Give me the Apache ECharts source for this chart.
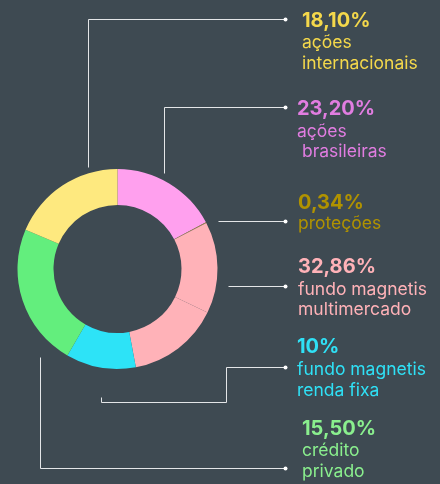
<!DOCTYPE html>
<html>
<head>
<meta charset="utf-8">
<script src="https://cdn.jsdelivr.net/npm/echarts@6/dist/echarts.min.js"></script>
<style>
html,body{margin:0;padding:0;background:#3e4a52;}
#c{width:440px;height:484px;}
</style>
</head>
<body>
<div id="c"></div>
<script>
// Slices as drawn in the ring, clockwise from 12 o'clock (share of the ring)
const sliceNames = ['ações brasileiras', 'proteções', 'fundo magnetis multimercado', 'fundo magnetis multimercado', 'fundo magnetis renda fixa', 'crédito privado', 'ações internacionais'];
const sliceValues = [17.3, 0.12, 14.8, 14.9, 11.3, 23.1, 18.6];

// Label texts (top to bottom on the right)
const pctLabels = ['18,10%', '23,20%', '0,34%', '32,86%', '10%', '15,50%'];
const nameLabels = [
  ['ações', 'internacionais'],
  ['ações', ' brasileiras'],
  ['proteções'],
  ['fundo magnetis', 'multimercado'],
  ['fundo magnetis', 'renda fixa'],
  ['crédito', 'privado']
];

// styles
const sliceColors = ['#ffa0ee', '#a08a40', '#ffb2b8', '#ffb2b8', '#2de3f7', '#63ee7d', '#fee97f'];
const labelColors = ['#f4d84b', '#e17de1', '#b09200', '#ffb2b8', '#2fe1f6', '#8aef8e'];
const labelX = [302, 297, 298, 298, 297, 302];
const pctBase = [27, 115, 209, 273, 353, 435];
const nameBase = [[48, 69], [137, 157], [229], [295, 315], [375, 396], [456, 477]];
const leaders = [
  [[88, 167], [88, 19], [285, 19]],
  [[164, 173], [164, 107], [285, 107]],
  [[218, 221], [285, 221]],
  [[228, 286], [285, 286]],
  [[101, 397], [101, 402], [226, 402], [226, 367], [285, 367]],
  [[40, 357], [40, 468], [285, 468]]
];

const FONT = 'Inter, "Noto Sans", sans-serif';
const graphics = [];
leaders.forEach(function (pts) {
  graphics.push({
    type: 'polyline', silent: true,
    shape: { points: pts.map(function (p) { return [p[0] + 0.5, p[1] + 0.5]; }) },
    style: { stroke: '#e4e6e8', lineWidth: 1, fill: null }
  });
  const e = pts[pts.length - 1];
  graphics.push({
    type: 'circle', silent: true,
    shape: { cx: e[0] + 0.5, cy: e[1] + 0.5, r: 2 },
    style: { fill: '#ffffff' }
  });
});
pctLabels.forEach(function (t, i) {
  graphics.push({
    type: 'text', silent: true,
    style: { x: labelX[i], y: pctBase[i] - 6, text: t, fill: labelColors[i],
      font: 'bold 20px ' + FONT, textAlign: 'left', textVerticalAlign: 'middle' }
  });
  nameLabels[i].forEach(function (line, j) {
    graphics.push({
      type: 'text', silent: true,
      style: { x: labelX[i], y: nameBase[i][j] - 5.3, text: line, fill: labelColors[i],
        font: '17.5px ' + FONT, textAlign: 'left', textVerticalAlign: 'middle' }
    });
  });
});

const chart = echarts.init(document.getElementById('c'), null, { renderer: 'canvas' });
chart.setOption({
  backgroundColor: '#3e4a52',
  animation: false,
  series: [{
    type: 'pie',
    center: [117.5, 269],
    radius: [64, 100],
    startAngle: 90,
    clockwise: true,
    avoidLabelOverlap: false,
    label: { show: false },
    labelLine: { show: false },
    emphasis: { disabled: true },
    data: sliceNames.map(function (n, i) {
      return { name: n, value: sliceValues[i], itemStyle: { color: sliceColors[i] } };
    })
  }],
  graphic: graphics
});
</script>
</body>
</html>
